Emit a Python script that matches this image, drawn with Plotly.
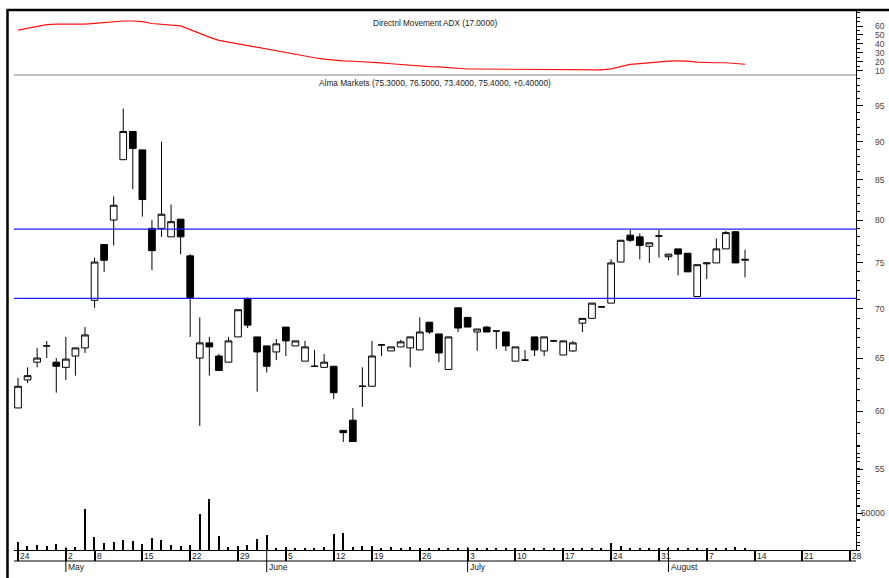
import math
import plotly.graph_objects as go
from datetime import date

# ---------------- data ----------------
ADX_TITLE = "Directnl Movement ADX (17.0000)"
PRICE_TITLE = "Alma Markets (75.3000, 76.5000, 73.4000, 75.4000, +0.40000)"

DATES = [
    "2006-04-24", "2006-04-25", "2006-04-26", "2006-04-27", "2006-04-28",
    "2006-05-02", "2006-05-03", "2006-05-04",
    "2006-05-08", "2006-05-09", "2006-05-10", "2006-05-11", "2006-05-12",
    "2006-05-15", "2006-05-16", "2006-05-17", "2006-05-18", "2006-05-19",
    "2006-05-22", "2006-05-23", "2006-05-24", "2006-05-25", "2006-05-26",
    "2006-05-29", "2006-05-30", "2006-05-31", "2006-06-01", "2006-06-02",
    "2006-06-05", "2006-06-06", "2006-06-07", "2006-06-08", "2006-06-09",
    "2006-06-12", "2006-06-14", "2006-06-15", "2006-06-16",
    "2006-06-19", "2006-06-20", "2006-06-21", "2006-06-22", "2006-06-23",
    "2006-06-26", "2006-06-27", "2006-06-28", "2006-06-29", "2006-06-30",
    "2006-07-03", "2006-07-04", "2006-07-05", "2006-07-06", "2006-07-07",
    "2006-07-10", "2006-07-11", "2006-07-12", "2006-07-13", "2006-07-14",
    "2006-07-17", "2006-07-18", "2006-07-19", "2006-07-20", "2006-07-21",
    "2006-07-24", "2006-07-25", "2006-07-26", "2006-07-27", "2006-07-28",
    "2006-07-31", "2006-08-01", "2006-08-02", "2006-08-03", "2006-08-04",
    "2006-08-07", "2006-08-08", "2006-08-09", "2006-08-10", "2006-08-11",
]
# empty future trading days that the date axis still shows
AXIS_FUTURE_DATES = [
    "2006-08-14", "2006-08-15", "2006-08-16", "2006-08-17", "2006-08-18",
    "2006-08-21", "2006-08-22", "2006-08-23", "2006-08-24", "2006-08-25",
    "2006-08-28",
]

OPEN = [60.3, 62.9, 64.6, 66.2, 64.6, 64.1, 65.2, 66.0, 70.9, 77.1,
        80.0, 87.6, 91.4, 88.9, 79.0, 79.0, 78.0, 80.1, 75.8, 65.0,
        66.5, 65.2, 64.6, 67.1, 71.1, 67.1, 66.2, 65.6, 68.1, 66.2,
        64.7, 64.2, 64.1, 64.2, 58.3, 59.2, 62.3, 62.3, 66.3, 65.7,
        66.1, 66.0, 65.8, 68.6, 67.4, 63.9, 70.1, 69.1, 67.6, 68.1,
        67.7, 67.6, 64.7, 64.8, 67.1, 65.7, 66.7, 65.3, 65.7, 68.5,
        69.0, 70.2, 70.6, 75.1, 78.2, 78.0, 76.9, 78.1, 75.7, 76.6,
        76.1, 71.3, 74.9, 75.0, 76.6, 78.6, 75.3]
HIGH = [63.1, 64.1, 66.0, 66.7, 65.0, 67.1, 66.0, 68.1, 75.6, 77.1,
        82.9, 94.6, 91.4, 88.9, 80.0, 90.0, 81.9, 80.1, 76.0, 69.1,
        67.1, 65.4, 67.1, 69.9, 71.2, 67.1, 66.2, 66.9, 68.1, 66.7,
        66.7, 65.8, 65.4, 64.2, 58.3, 60.3, 64.1, 66.7, 66.4, 66.1,
        66.8, 67.1, 69.1, 68.6, 67.4, 67.1, 70.1, 69.1, 67.9, 68.2,
        67.7, 67.6, 66.1, 65.8, 67.1, 67.1, 66.8, 66.7, 66.7, 69.0,
        70.6, 70.3, 75.4, 77.6, 78.8, 78.4, 77.3, 78.9, 76.0, 76.6,
        76.1, 74.8, 75.0, 77.8, 78.7, 78.7, 76.5]
LOW = [60.3, 62.6, 64.1, 65.0, 61.7, 62.9, 63.3, 65.5, 70.1, 74.0,
       77.0, 87.6, 83.8, 80.4, 74.2, 78.0, 78.0, 76.0, 67.1, 58.7,
       63.3, 63.8, 64.6, 67.1, 68.0, 61.8, 63.6, 64.8, 65.2, 66.2,
       64.7, 64.2, 64.1, 61.1, 55.9, 56.3, 60.4, 62.3, 65.2, 65.7,
       66.1, 64.1, 65.8, 67.4, 64.6, 63.9, 67.6, 68.1, 65.7, 67.6,
       65.9, 65.7, 64.7, 64.8, 65.2, 65.2, 66.6, 65.3, 65.6, 67.6,
       69.0, 70.1, 70.6, 75.1, 77.4, 75.4, 75.0, 75.6, 75.3, 73.6,
       74.0, 71.3, 73.2, 75.0, 76.6, 75.0, 73.4]
CLOSE = [62.3, 63.3, 65.0, 66.2, 64.2, 64.9, 66.0, 67.3, 75.1, 75.3,
         81.8, 91.4, 89.1, 82.5, 76.4, 80.7, 79.8, 78.0, 71.2, 66.5,
         66.1, 63.8, 66.7, 69.9, 68.3, 65.6, 64.2, 66.4, 66.7, 66.7,
         66.1, 64.2, 64.6, 61.7, 58.1, 57.3, 62.3, 65.2, 66.3, 66.1,
         66.6, 67.1, 67.6, 67.6, 65.5, 67.1, 68.0, 68.1, 67.9, 67.6,
         67.7, 66.2, 66.1, 64.8, 65.8, 67.1, 66.7, 66.7, 66.5, 69.0,
         70.6, 70.2, 75.0, 77.6, 77.6, 77.0, 77.3, 78.1, 76.0, 76.0,
         74.0, 74.8, 75.0, 76.6, 78.5, 75.0, 75.4]
VOLUME = [11300, 5400, 6800, 5400, 8600, 3000, 3600, 55900, 17100, 9900,
          10800, 14000, 12200, 8600, 16200, 13500, 6300, 5400, 6300, 48600,
          68500, 19400, 3600, 5900, 6300, 15300, 19800, 2300, 3600, 2300,
          2300, 3100, 4100, 22100, 23000, 4100, 5900, 5400, 2700, 4500,
          2700, 3600, 2300, 2700, 1800, 2300, 2300, 2000, 2300, 2300,
          2700, 2300, 2000, 2300, 2700, 2300, 2300, 2000, 2700, 2300,
          2300, 2300, 9900, 5400, 2300, 2300, 2300, 2300, 3100, 2700,
          2300, 2700, 2300, 2300, 2700, 4100, 2700]
ADX = [55.4, 57.5, 59.6, 61.6, 62.0, 62.0, 62.0, 62.2, 63.0, 64.0,
       65.0, 65.6, 65.6, 64.8, 62.8, 62.0, 61.2, 60.2, 56.0, 51.5,
       47.5, 44.0, 42.0, 40.4, 38.2, 36.0, 33.8, 32.0, 30.0, 28.2,
       26.2, 24.5, 23.0, 21.6, 21.0, 20.6, 20.2, 19.6, 18.7, 17.8,
       16.9, 16.2, 15.4, 14.6, 14.3, 13.5, 12.5, 11.9, 11.9, 11.8,
       11.8, 11.7, 11.7, 11.8, 11.8, 11.9, 11.9, 11.8, 11.6, 11.0,
       10.8, 10.9, 12.0, 14.5, 17.0, 18.0, 19.0, 19.8, 20.8, 20.9,
       20.8, 19.5, 18.9, 18.9, 18.9, 18.2, 17.2]

RESISTANCE = 78.9
SUPPORT = 71.1

PRICE_TICKS = [55, 60, 65, 70, 75, 80, 85, 90, 95]
PRICE_MINOR = list(range(49, 100))
ADX_TICKS = [10, 20, 30, 40, 50, 60]
VOLUME_TICKS = [50000]
MONTH_NAMES = {1: "January", 2: "February", 3: "March", 4: "April", 5: "May",
               6: "June", 7: "July", 8: "August", 9: "September",
               10: "October", 11: "November", 12: "December"}

# ---------------- derived axis positions ----------------
x = list(range(len(DATES)))
all_dates = [date.fromisoformat(d) for d in DATES + AXIS_FUTURE_DATES]
week_pos, week_lab, month_pos, month_lab = [], [], [], []
for i, d in enumerate(all_dates):
    if i == 0 or d.isocalendar()[1] != all_dates[i - 1].isocalendar()[1]:
        week_pos.append(i)
        week_lab.append(str(d.day))
    if i > 0 and d.month != all_dates[i - 1].month:
        month_pos.append(i)
        month_lab.append(MONTH_NAMES[d.month])

FONT = "Liberation Sans, Arial, sans-serif"
W, H = 889, 578
ML, MR, MT, MB = 14, 33, 10, 28
PW = W - ML - MR
PH = H - MT - MB


def py(px):
    """pixel y (from top) -> paper y"""
    return (H - MB - px) / PH


def pxx(px):
    """pixel x (from left) -> paper x"""
    return (px - ML) / PW


fig = go.Figure()

fig.add_trace(go.Candlestick(
    x=x, open=OPEN, high=HIGH, low=LOW, close=CLOSE,
    increasing=dict(fillcolor="white", line=dict(color="black", width=1)),
    decreasing=dict(fillcolor="black", line=dict(color="black", width=1)),
    whiskerwidth=0, yaxis="y", showlegend=False,
))
fig.add_trace(go.Bar(
    x=x, y=VOLUME, width=0.13, marker=dict(color="black", line=dict(width=0)),
    yaxis="y2", showlegend=False,
))
fig.add_trace(go.Scatter(
    x=x, y=ADX, mode="lines", line=dict(color="#ff1010", width=1.2),
    yaxis="y3", showlegend=False,
))

adx_bottom = py(75)
common_y = dict(side="right", anchor="x", showgrid=False, zeroline=False,
                automargin=False, showticklabels=False, tickmode="array",
                ticks="outside", ticklen=6, tickwidth=1, tickcolor="black")

fig.update_layout(
    width=W, height=H,
    margin=dict(l=ML, r=MR, t=MT, b=MB, pad=0, autoexpand=False),
    paper_bgcolor="white", plot_bgcolor="white",
    font=dict(family=FONT, size=9, color="#333"),
    boxgap=0.3, boxgroupgap=0.0,
    bargap=0,
    showlegend=False,
    xaxis=dict(
        range=[-0.42, 87.6], showgrid=False, zeroline=False, automargin=False,
        rangeslider=dict(visible=False),
        tickmode="array", tickvals=week_pos, ticks="outside", ticklen=10,
        tickwidth=1.5, tickcolor="black", showticklabels=False,
        showline=True, linecolor="black", linewidth=1,
    ),
    yaxis=dict(
        domain=[0, adx_bottom], type="log",
        range=[math.log10(48.7), math.log10(99.5)],
        tickvals=PRICE_TICKS,
        minor=dict(tickvals=PRICE_MINOR, ticks="outside", ticklen=3, tickcolor="black", tickwidth=1),
        showline=True, linecolor="black", linewidth=1,
        **common_y,
    ),
    yaxis2=dict(
        domain=[0, 0.2], range=[0, 146000],
        tickvals=VOLUME_TICKS,
        minor=dict(dtick=10000, ticks="outside", ticklen=3, tickcolor="black"),
        showline=False,
        **common_y,
    ),
    yaxis3=dict(
        domain=[adx_bottom, 1], range=[5.2, 77.9],
        tickvals=ADX_TICKS,
        minor=dict(dtick=5, ticks="outside", ticklen=3, tickcolor="black"),
        showline=True, linecolor="black", linewidth=1,
        **common_y,
    ),
)

shapes = []
# support / resistance lines
for lvl in (RESISTANCE, SUPPORT):
    shapes.append(dict(type="line", xref="paper", yref="y", x0=0, x1=1, y0=lvl, y1=lvl,
                       line=dict(color="#2020ff", width=1.3)))
# separator between ADX and price panel
shapes.append(dict(type="line", xref="paper", yref="paper", x0=0, x1=1,
                   y0=adx_bottom, y1=adx_bottom, line=dict(color="#888", width=1)))
# lower line of the date band
shapes.append(dict(type="line", xref="paper", yref="paper", x0=0, x1=1,
                   y0=py(561), y1=py(561), line=dict(color="black", width=1)))
# month tick lines
for p in month_pos:
    shapes.append(dict(type="line", xref="x", yref="paper", x0=p, x1=p,
                       y0=py(547), y1=py(572), line=dict(color="black", width=1)))
# outer frame: top and left thick borders
shapes.append(dict(type="line", xref="paper", yref="paper", x0=pxx(6.5), x1=pxx(W),
                   y0=1, y1=1, line=dict(color="black", width=2.5)))
shapes.append(dict(type="line", xref="paper", yref="paper", x0=pxx(7.5), x1=pxx(7.5),
                   y0=1, y1=py(H), line=dict(color="black", width=2.5)))
fig.update_layout(shapes=shapes)

ann = []
# date band labels (right of each tick)
for p, lab in zip(week_pos, week_lab):
    ann.append(dict(x=p, xref="x", y=py(555.5), yref="paper", text=lab, showarrow=False,
                    xanchor="left", yanchor="middle", xshift=0,
                    font=dict(size=8.5, color="#222", family=FONT)))
for p, lab in zip(month_pos, month_lab):
    ann.append(dict(x=p, xref="x", y=py(567), yref="paper", text=lab, showarrow=False,
                    xanchor="left", yanchor="middle", xshift=0,
                    font=dict(size=8.5, color="#222", family=FONT)))
# right-aligned value-axis labels
lab_x = pxx(887)
lab_font = dict(size=8.5, color="#444", family=FONT)
for v in PRICE_TICKS:
    ann.append(dict(x=lab_x, xref="paper", y=math.log10(v), yref="y", text=str(v),
                    showarrow=False, xanchor="right", yanchor="middle", font=lab_font))
for v in ADX_TICKS:
    ann.append(dict(x=lab_x, xref="paper", y=v, yref="y3", text=str(v),
                    showarrow=False, xanchor="right", yanchor="middle", font=lab_font))
for v in VOLUME_TICKS:
    ann.append(dict(x=lab_x, xref="paper", y=v, yref="y2", text=str(v),
                    showarrow=False, xanchor="right", yanchor="middle", font=lab_font))
# panel titles
ann.append(dict(x=pxx(435), xref="paper", y=py(23.3), yref="paper", text=ADX_TITLE,
                showarrow=False, xanchor="center", yanchor="middle",
                font=dict(size=8.2, color="#222", family=FONT)))
ann.append(dict(x=pxx(435), xref="paper", y=py(82.5), yref="paper", text=PRICE_TITLE,
                showarrow=False, xanchor="center", yanchor="middle",
                font=dict(size=8.3, color="#222", family=FONT)))
fig.update_layout(annotations=ann)

fig.write_html("out.html", config={"displayModeBar": False},
               post_script="document.body.style.margin='0px';")
